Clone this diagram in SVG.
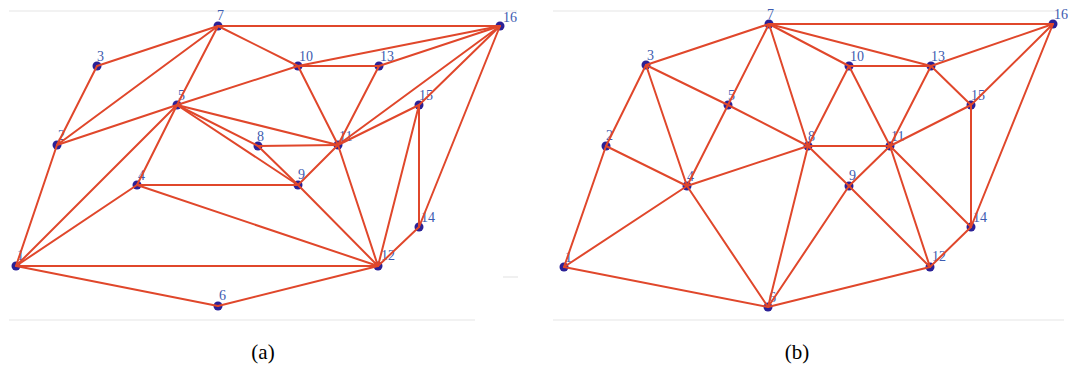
<svg xmlns="http://www.w3.org/2000/svg" width="1068" height="368" viewBox="0 0 1068 368">
<style>
.frame{stroke:#e6e6e6;stroke-width:1.2;fill:none}
.e{stroke:#e0472b;stroke-width:2;stroke-linecap:round}
.n circle{fill:#2b2196}
.n text{font-family:"Liberation Serif",serif;font-size:14px;fill:#3d5bb0}
.cap{font-family:"Liberation Serif",serif;font-size:21px;fill:#000}
</style>
<rect width="1068" height="368" fill="#fff"/>
<g id="frames">
<line class="frame" x1="9" y1="11" x2="517" y2="11"/>
<line class="frame" x1="9" y1="320" x2="475" y2="320"/>
<line class="frame" x1="503" y1="277" x2="518" y2="277"/>
<line class="frame" x1="553" y1="11" x2="1058" y2="11"/>
<line class="frame" x1="553" y1="320" x2="1064" y2="320"/>
</g>
<!-- Panel (a) nodes -->
<g id="a-nodes">
<g class="n" id="a1"><circle cx="16" cy="266" r="4.5"/><text x="17" y="260">1</text></g>
<g class="n" id="a2"><circle cx="57" cy="145" r="4.5"/><text x="58" y="140">2</text></g>
<g class="n" id="a3"><circle cx="97" cy="66" r="4.5"/><text x="97" y="61">3</text></g>
<g class="n" id="a4"><circle cx="137" cy="185" r="4.5"/><text x="138" y="180">4</text></g>
<g class="n" id="a5"><circle cx="177" cy="105" r="4.5"/><text x="178" y="100">5</text></g>
<g class="n" id="a6"><circle cx="218" cy="306" r="4.5"/><text x="219" y="300">6</text></g>
<g class="n" id="a7"><circle cx="218" cy="26" r="4.5"/><text x="217" y="20">7</text></g>
<g class="n" id="a8"><circle cx="258" cy="146" r="4.5"/><text x="257" y="141">8</text></g>
<g class="n" id="a9"><circle cx="298" cy="185" r="4.5"/><text x="298" y="179">9</text></g>
<g class="n" id="a10"><circle cx="298" cy="66" r="4.5"/><text x="299" y="61">10</text></g>
<g class="n" id="a11"><circle cx="338" cy="145" r="4.5"/><text x="339" y="141">11</text></g>
<g class="n" id="a12"><circle cx="378" cy="266" r="4.5"/><text x="381" y="260">12</text></g>
<g class="n" id="a13"><circle cx="379" cy="66" r="4.5"/><text x="380" y="61">13</text></g>
<g class="n" id="a14"><circle cx="419" cy="227" r="4.5"/><text x="421" y="222">14</text></g>
<g class="n" id="a15"><circle cx="419" cy="105" r="4.5"/><text x="419" y="100">15</text></g>
<g class="n" id="a16"><circle cx="500" cy="26" r="4.5"/><text x="503" y="22">16</text></g>
</g>
<!-- Panel (b) nodes -->
<g id="b-nodes">
<g class="n" id="b1"><circle cx="564" cy="267" r="4.5"/><text x="565" y="262">1</text></g>
<g class="n" id="b2"><circle cx="606" cy="146" r="4.5"/><text x="606" y="140">2</text></g>
<g class="n" id="b3"><circle cx="646" cy="65" r="4.5"/><text x="647" y="60">3</text></g>
<g class="n" id="b4"><circle cx="687" cy="186" r="4.5"/><text x="687" y="181">4</text></g>
<g class="n" id="b5"><circle cx="728" cy="105" r="4.5"/><text x="728" y="100">5</text></g>
<g class="n" id="b6"><circle cx="768" cy="307" r="4.5"/><text x="769" y="302">6</text></g>
<g class="n" id="b7"><circle cx="769" cy="24" r="4.5"/><text x="767" y="19">7</text></g>
<g class="n" id="b8"><circle cx="808" cy="146" r="4.5"/><text x="808" y="141">8</text></g>
<g class="n" id="b9"><circle cx="849" cy="186" r="4.5"/><text x="849" y="180">9</text></g>
<g class="n" id="b10"><circle cx="849" cy="66" r="4.5"/><text x="850" y="61">10</text></g>
<g class="n" id="b11"><circle cx="890" cy="146" r="4.5"/><text x="891" y="141">11</text></g>
<g class="n" id="b12"><circle cx="930" cy="267" r="4.5"/><text x="932" y="261">12</text></g>
<g class="n" id="b13"><circle cx="931" cy="66" r="4.5"/><text x="931" y="61">13</text></g>
<g class="n" id="b14"><circle cx="971" cy="227" r="4.5"/><text x="973" y="222">14</text></g>
<g class="n" id="b15"><circle cx="971" cy="105" r="4.5"/><text x="971" y="100">15</text></g>
<g class="n" id="b16"><circle cx="1053" cy="24" r="4.5"/><text x="1054" y="19">16</text></g>
</g>
<g id="connectors">
<!-- (a) -->
<line class="e" x1="218" y1="26" x2="500" y2="26"/>
<line class="e" x1="218" y1="26" x2="97" y2="66"/>
<line class="e" x1="218" y1="26" x2="57" y2="145"/>
<line class="e" x1="218" y1="26" x2="177" y2="105"/>
<line class="e" x1="218" y1="26" x2="298" y2="66"/>
<line class="e" x1="97" y1="66" x2="57" y2="145"/>
<line class="e" x1="57" y1="145" x2="177" y2="105"/>
<line class="e" x1="57" y1="145" x2="16" y2="266"/>
<line class="e" x1="177" y1="105" x2="298" y2="66"/>
<line class="e" x1="298" y1="66" x2="500" y2="26"/>
<line class="e" x1="177" y1="105" x2="258" y2="146"/>
<line class="e" x1="177" y1="105" x2="298" y2="185"/>
<line class="e" x1="177" y1="105" x2="338" y2="145"/>
<line class="e" x1="177" y1="105" x2="137" y2="185"/>
<line class="e" x1="177" y1="105" x2="16" y2="266"/>
<line class="e" x1="16" y1="266" x2="137" y2="185"/>
<line class="e" x1="16" y1="266" x2="378" y2="266"/>
<line class="e" x1="16" y1="266" x2="218" y2="306"/>
<line class="e" x1="218" y1="306" x2="378" y2="266"/>
<line class="e" x1="137" y1="185" x2="298" y2="185"/>
<line class="e" x1="137" y1="185" x2="378" y2="266"/>
<line class="e" x1="258" y1="146" x2="338" y2="145"/>
<line class="e" x1="258" y1="146" x2="298" y2="185"/>
<line class="e" x1="298" y1="185" x2="338" y2="145"/>
<line class="e" x1="298" y1="185" x2="378" y2="266"/>
<line class="e" x1="338" y1="145" x2="378" y2="266"/>
<line class="e" x1="298" y1="66" x2="338" y2="145"/>
<line class="e" x1="379" y1="66" x2="338" y2="145"/>
<line class="e" x1="298" y1="66" x2="379" y2="66"/>
<line class="e" x1="379" y1="66" x2="500" y2="26"/>
<line class="e" x1="338" y1="145" x2="500" y2="26"/>
<line class="e" x1="419" y1="105" x2="500" y2="26"/>
<line class="e" x1="338" y1="145" x2="419" y2="105"/>
<line class="e" x1="419" y1="105" x2="378" y2="266"/>
<line class="e" x1="419" y1="105" x2="419" y2="227"/>
<line class="e" x1="419" y1="227" x2="378" y2="266"/>
<line class="e" x1="500" y1="26" x2="419" y2="227"/>
<!-- (b) -->
<line class="e" x1="769" y1="24" x2="1053" y2="24"/>
<line class="e" x1="769" y1="24" x2="646" y2="65"/>
<line class="e" x1="769" y1="24" x2="728" y2="105"/>
<line class="e" x1="769" y1="24" x2="808" y2="146"/>
<line class="e" x1="769" y1="24" x2="849" y2="66"/>
<line class="e" x1="769" y1="24" x2="931" y2="66"/>
<line class="e" x1="646" y1="65" x2="606" y2="146"/>
<line class="e" x1="646" y1="65" x2="728" y2="105"/>
<line class="e" x1="646" y1="65" x2="687" y2="186"/>
<line class="e" x1="606" y1="146" x2="687" y2="186"/>
<line class="e" x1="606" y1="146" x2="564" y2="267"/>
<line class="e" x1="564" y1="267" x2="687" y2="186"/>
<line class="e" x1="564" y1="267" x2="768" y2="307"/>
<line class="e" x1="728" y1="105" x2="687" y2="186"/>
<line class="e" x1="728" y1="105" x2="808" y2="146"/>
<line class="e" x1="687" y1="186" x2="808" y2="146"/>
<line class="e" x1="687" y1="186" x2="768" y2="307"/>
<line class="e" x1="808" y1="146" x2="849" y2="66"/>
<line class="e" x1="808" y1="146" x2="890" y2="146"/>
<line class="e" x1="808" y1="146" x2="849" y2="186"/>
<line class="e" x1="808" y1="146" x2="768" y2="307"/>
<line class="e" x1="849" y1="66" x2="890" y2="146"/>
<line class="e" x1="849" y1="66" x2="931" y2="66"/>
<line class="e" x1="931" y1="66" x2="890" y2="146"/>
<line class="e" x1="931" y1="66" x2="971" y2="105"/>
<line class="e" x1="931" y1="66" x2="1053" y2="24"/>
<line class="e" x1="971" y1="105" x2="1053" y2="24"/>
<line class="e" x1="971" y1="105" x2="890" y2="146"/>
<line class="e" x1="971" y1="105" x2="971" y2="227"/>
<line class="e" x1="971" y1="227" x2="1053" y2="24"/>
<line class="e" x1="890" y1="146" x2="849" y2="186"/>
<line class="e" x1="890" y1="146" x2="930" y2="267"/>
<line class="e" x1="890" y1="146" x2="971" y2="227"/>
<line class="e" x1="849" y1="186" x2="930" y2="267"/>
<line class="e" x1="849" y1="186" x2="768" y2="307"/>
<line class="e" x1="930" y1="267" x2="971" y2="227"/>
<line class="e" x1="768" y1="307" x2="930" y2="267"/>
</g>
<g id="captions">
<text class="cap" x="263" y="359" text-anchor="middle">(a)</text>
<text class="cap" x="797" y="359" text-anchor="middle">(b)</text>
</g>
</svg>
